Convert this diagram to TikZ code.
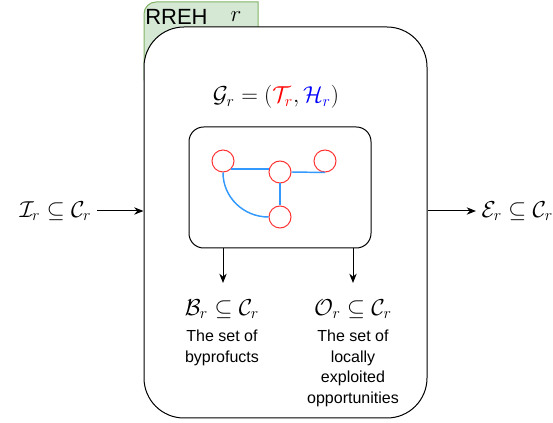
\documentclass[tikz,border=0pt]{standalone}
\usepackage{fontspec}
\usepackage{amsmath}
\usepackage{amssymb}
\usepackage{xcolor}
\usetikzlibrary{arrows.meta,positioning}
\newfontfamily\helv{Liberation Sans}
\definecolor{rrehfill}{HTML}{D5E8D4}
\definecolor{rrehline}{HTML}{82B366}
\definecolor{techred}{HTML}{FF3333}
\definecolor{linkblue}{HTML}{3399FF}

\begin{document}
\begin{tikzpicture}[x=0.75pt, y=-0.75pt,
  % math labels (sets) and the plain sans captions under them
  setlab/.style={font=\fontsize{17.5}{20}\selectfont, inner sep=0pt},
  caplab/.style={font=\helv\fontsize{12}{15.5}\selectfont, align=center, inner sep=0pt},
  tech/.style={circle, draw=techred, fill=white, line width=0.75pt, minimum size=16.5pt, inner sep=0pt},
  link/.style={draw=linkblue, line width=1.1pt},
  flow/.style={-{Stealth[length=7pt,width=5.5pt]}, line width=0.75pt},
]
\useasboundingbox (0,0) rectangle (553,423);

% green tab behind the RREH box
\filldraw[fill=rrehfill, draw=rrehline, line width=0.75pt]
  (144,80) [rounded corners=9pt] -- (144,2) [sharp corners] -- (258,2) -- (258,80) -- cycle;
\node[font=\helv\fontsize{16.5}{18}\selectfont, anchor=west, inner sep=0pt] (tabname) at (145,17) {RREH};
\node[setlab] (tabidx) at (236,17) {$r$};

\node[draw, fill=white, line width=0.75pt, rounded corners=30pt,
      minimum width=212.25pt, minimum height=293.25pt] (rreh) at (285.5,222.5) {};

\node[setlab] (graphname) at (276,97)
  {$\mathcal{G}_r = (\textcolor{red}{\mathcal{T}_r}, \textcolor{blue}{\mathcal{H}_r})$};

\node[draw, line width=0.75pt, rounded corners=11pt,
      minimum width=136.5pt, minimum height=90.75pt] (graph) at (280,187.5) {};

\node[tech] (t1) at (223,161) {};
\node[tech] (t2) at (280,172) {};
\node[tech] (t3) at (325,161) {};
\node[tech] (t4) at (280,217) {};
\draw[link] (t1.-45) -- (t1.-45 -| t2.west);
\draw[link] (t2.east) -- (t3.south);
\draw[link] (t2.south) -- (t4.north);
\draw[link] (t1.south) to[out=-90, in=180] (t4.west);

% inputs / outputs
\node[setlab, anchor=east, inner sep=4pt] (inset) at (97,211) {$\mathcal{I}_r \subseteq \mathcal{C}_r$};
\draw[flow] (inset.east) -- (inset -| rreh.west);
\node[setlab, anchor=west, inner sep=4pt] (outset) at (476,211) {$\mathcal{E}_r \subseteq \mathcal{C}_r$};
\draw[flow] (outset -| rreh.east) -- (outset.west);

\coordinate (bdrop) at (223,283);
\coordinate (odrop) at (353,283);
\draw[flow] (bdrop |- graph.south) -- (bdrop);
\draw[flow] (odrop |- graph.south) -- (odrop);

\node[setlab] (bset) at (222,309) {$\mathcal{B}_r \subseteq \mathcal{C}_r$};
\node[caplab, below=8pt of bset] (btext) {The set of\\byprofucts};
\node[setlab] (oset) at (353,309) {$\mathcal{O}_r \subseteq \mathcal{C}_r$};
\node[caplab, below=8pt of oset] (otext) {The set of\\locally\\exploited\\opportunities};
\end{tikzpicture}
\end{document}
